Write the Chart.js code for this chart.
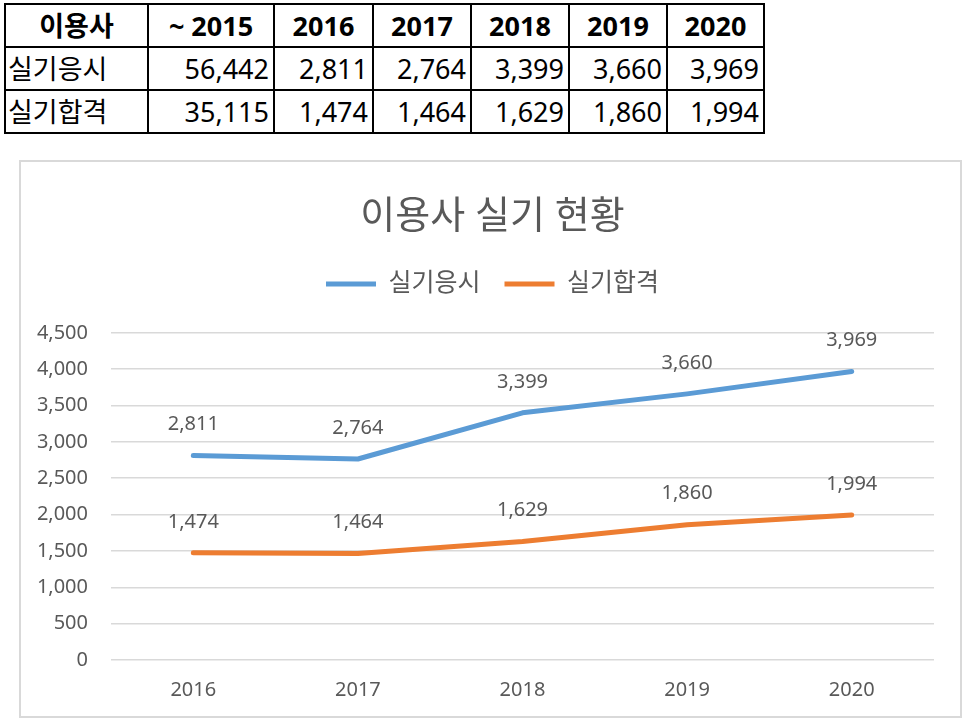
<!DOCTYPE html>
<html lang="ko">
<head>
<meta charset="utf-8">
<script src="https://cdn.jsdelivr.net/npm/chart.js@4/dist/chart.umd.min.js"></script>
<style>
  html, body { margin: 0; padding: 0; background: #fff; }
  body { width: 966px; height: 723px; position: relative; overflow: hidden; font-family: "Noto Sans", "Noto Sans CJK KR", sans-serif; }
  #dataTable { position: absolute; left: 4px; top: 3px; border-collapse: collapse; font-size: 27px; color: #000; }
  #dataTable td, #dataTable th { border: 2px solid #000; height: 41px; padding: 0 4px; line-height: 1; }
  #dataTable th { font-weight: bold; text-align: center; }
  #dataTable td { text-align: right; }
  #dataTable td.name { text-align: left; padding-left: 2px; }
  #chartBox { position: absolute; left: 19px; top: 160px; width: 939px; height: 554px; border: 2px solid #d9d9d9; }
</style>
</head>
<body>
<table id="dataTable"></table>
<div id="chartBox"><canvas id="chart" width="939" height="554"></canvas></div>
<script>
const tableHeader = ['이용사', '~ 2015', '2016', '2017', '2018', '2019', '2020'];
const colWidths = [143, 126, 99, 98, 98, 98, 97];
const seriesNames = ['실기응시', '실기합격'];
const applied = [56442, 2811, 2764, 3399, 3660, 3969];
const passed = [35115, 1474, 1464, 1629, 1860, 1994];

const years = ['2016', '2017', '2018', '2019', '2020'];
const appliedYearly = [2811, 2764, 3399, 3660, 3969];
const passedYearly = [1474, 1464, 1629, 1860, 1994];
const yTicks = [0, 500, 1000, 1500, 2000, 2500, 3000, 3500, 4000, 4500];

const fmt = n => n.toLocaleString('en-US');

function renderTable() {
  const head = `<tr>${tableHeader.map((h, i) => `<th style="width:${colWidths[i] - 10}px">${h}</th>`).join('')}</tr>`;
  const rows = [applied, passed].map((vals, r) =>
    `<tr><td class="name">${seriesNames[r]}</td>${vals.map(x => `<td>${fmt(x)}</td>`).join('')}</tr>`).join('');
  document.getElementById('dataTable').innerHTML = head + rows;
}
renderTable();

const grey = '#595959';
const font = '"Noto Sans", "Noto Sans CJK KR", sans-serif';

// draws the value above each point
const pointLabels = {
  id: 'pointLabels',
  afterDatasetsDraw(chart) {
    const ctx = chart.ctx;
    ctx.save();
    ctx.fillStyle = grey;
    ctx.font = `20px ${font}`;
    ctx.textAlign = 'center';
    ctx.textBaseline = 'middle';
    chart.data.datasets.forEach((ds, i) => {
      chart.getDatasetMeta(i).data.forEach((pt, j) => {
        ctx.fillText(fmt(ds.data[j]), pt.x, pt.y - 31);
      });
    });
    ctx.restore();
  }
};

new Chart(document.getElementById('chart'), {
  type: 'line',
  data: {
    labels: years,
    datasets: [
      { label: seriesNames[0], data: appliedYearly, borderColor: '#5b9bd5', backgroundColor: '#5b9bd5',
        borderWidth: 5, borderCapStyle: 'round', borderJoinStyle: 'round', pointRadius: 0, tension: 0 },
      { label: seriesNames[1], data: passedYearly, borderColor: '#ed7d31', backgroundColor: '#ed7d31',
        borderWidth: 5, borderCapStyle: 'round', borderJoinStyle: 'round', pointRadius: 0, tension: 0 }
    ]
  },
  options: {
    responsive: false,
    maintainAspectRatio: false,
    animation: false,
    locale: 'en-US',
    layout: { padding: { left: 4, right: 0, top: 0, bottom: 0 } },
    plugins: {
      title: { display: true, text: '이용사 실기 현황', color: grey, font: { family: font, size: 38, weight: 'normal' },
        padding: { top: 32, bottom: 8 } },
      legend: {
        position: 'top',
        labels: { color: grey, font: { family: font, size: 25 }, usePointStyle: true, pointStyle: 'line',
          pointStyleWidth: 50, padding: 24 }
      },
      // empty spacer between legend and plot
      subtitle: { display: true, text: ' ', weight: 500, font: { size: 1 }, padding: { top: 25, bottom: 0 } },
      tooltip: { enabled: false }
    },
    scales: {
      x: {
        offset: true,
        grid: { display: false, drawTicks: false },
        border: { display: false },
        ticks: { color: grey, font: { family: font, size: 20 }, padding: 18 },
        afterFit(scale) { scale.height = 56; }
      },
      y: {
        min: 0, max: 4500,
        afterBuildTicks(scale) { scale.ticks = yTicks.map(v => ({ value: v })); },
        grid: { color: '#d9d9d9', lineWidth: 1.5, drawTicks: false },
        border: { display: false },
        ticks: { color: grey, font: { family: font, size: 20 }, padding: 23, callback: v => fmt(v) },
        afterFit(scale) { scale.width = 86; }
      },
      // blank right margin
      yRight: {
        position: 'right', min: 0, max: 4500,
        grid: { display: false, drawTicks: false },
        border: { display: false },
        ticks: { display: false },
        afterFit(scale) { scale.width = 26; }
      }
    }
  },
  plugins: [pointLabels]
});
</script>
</body>
</html>
